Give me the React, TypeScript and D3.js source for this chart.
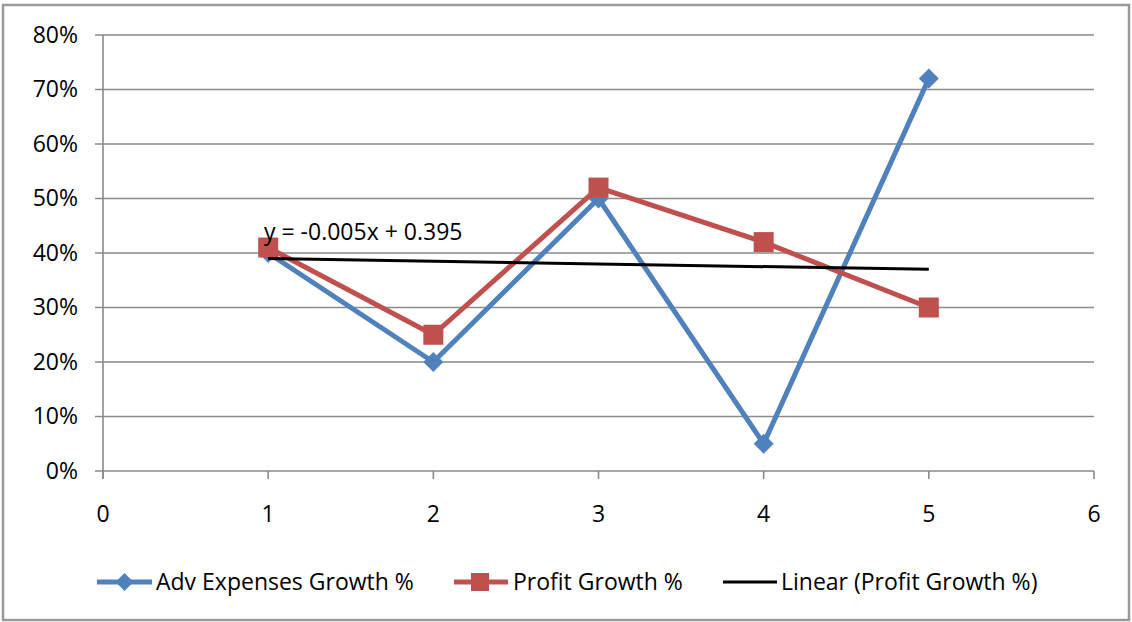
import React from "react";
import * as d3 from "d3";

// Year index on the horizontal axis
const periods = [1, 2, 3, 4, 5];
// Growth rates, as fractions
const advExpensesGrowth = [0.4, 0.2, 0.5, 0.05, 0.72];
const profitGrowth = [0.41, 0.25, 0.52, 0.42, 0.3];

const xTicks = [0, 1, 2, 3, 4, 5, 6];
const yTicks = [0, 0.1, 0.2, 0.3, 0.4, 0.5, 0.6, 0.7, 0.8];

const seriesNames = ["Adv Expenses Growth %", "Profit Growth %", "Linear (Profit Growth %)"];

const W = 1132;
const H = 622;
const FONT = "'Open Sans', Lato, sans-serif";
const FS = 23;
const BLUE = "#4F81BD";
const RED = "#C0504D";
const GRID = "#8a8a8a";

// least-squares fit of profit growth against period
function linearFit(xs: number[], ys: number[]) {
  const mx = d3.mean(xs)!;
  const my = d3.mean(ys)!;
  const num = d3.sum(xs, (x, i) => (x - mx) * (ys[i] - my));
  const den = d3.sum(xs, (x) => (x - mx) * (x - mx));
  const slope = num / den;
  return { slope, intercept: my - slope * mx };
}

function diamond(cx: number, cy: number, r: number) {
  return `M${cx},${cy - r}L${cx + r},${cy}L${cx},${cy + r}L${cx - r},${cy}Z`;
}

export default function App() {
  const x = d3.scaleLinear().domain([0, 6]).range([103, 1094]);
  const y = d3.scaleLinear().domain([0, 0.8]).range([471, 35]);

  const line = d3
    .line<number>()
    .x((_, i) => x(periods[i]))
    .y((v) => y(v));

  const fit = linearFit(periods, profitGrowth);
  const x0 = periods[0];
  const x1 = periods[periods.length - 1];
  const fmt = (v: number) => String(+v.toFixed(3));
  const eq = `y = ${fit.slope < 0 ? "-" : ""}${fmt(Math.abs(fit.slope))}x + ${fmt(fit.intercept)}`;

  const legendY = 582;

  return (
    <svg
      width={W}
      height={H}
      style={{ position: "absolute", left: 0, top: 0, background: "#fff" }}
      fontFamily={FONT}
    >
      <rect x={3} y={5} width={1126} height={615} fill="#fff" stroke="#999" strokeWidth={2.5} />

      {/* horizontal gridlines and y ticks */}
      {yTicks.map((t) => (
        <g key={t}>
          <line x1={95} x2={1094} y1={y(t)} y2={y(t)} stroke={GRID} strokeWidth={1.6} />
          <text x={78} y={y(t)} dy="0.33em" textAnchor="end" fontSize={FS} fill="#000">
            {d3.format(".0%")(t)}
          </text>
        </g>
      ))}

      {/* vertical axis */}
      <line x1={x(0)} x2={x(0)} y1={y(0.8)} y2={y(0) + 8} stroke={GRID} strokeWidth={1.6} />

      {/* x ticks */}
      {xTicks.map((t) => (
        <g key={t}>
          <line x1={x(t)} x2={x(t)} y1={y(0)} y2={y(0) + 8} stroke={GRID} strokeWidth={1.6} />
          <text x={x(t)} y={522} textAnchor="middle" fontSize={FS} fill="#000">
            {t}
          </text>
        </g>
      ))}

      {/* advertising expenses growth */}
      <path d={line(advExpensesGrowth)!} fill="none" stroke={BLUE} strokeWidth={5} strokeLinejoin="round" />
      {advExpensesGrowth.map((v, i) => (
        <path key={i} d={diamond(x(periods[i]), y(v), 10)} fill={BLUE} />
      ))}

      {/* profit growth */}
      <path d={line(profitGrowth)!} fill="none" stroke={RED} strokeWidth={5} strokeLinejoin="round" />
      {profitGrowth.map((v, i) => (
        <rect key={i} x={x(periods[i]) - 10} y={y(v) - 10} width={20} height={20} fill={RED} />
      ))}

      {/* linear trend of profit growth */}
      <line
        x1={x(x0)}
        x2={x(x1)}
        y1={y(fit.intercept + fit.slope * x0)}
        y2={y(fit.intercept + fit.slope * x1)}
        stroke="#000"
        strokeWidth={3}
      />
      <text x={264} y={240} fontSize={FS} fill="#000">
        {eq}
      </text>

      {/* legend */}
      <g fontSize={FS} fill="#000">
        <line x1={97} x2={152} y1={legendY} y2={legendY} stroke={BLUE} strokeWidth={5} />
        <path d={diamond(124.5, legendY, 9)} fill={BLUE} />
        <text x={156} y={590}>{seriesNames[0]}</text>

        <line x1={454} x2={508} y1={legendY} y2={legendY} stroke={RED} strokeWidth={5} />
        <rect x={471} y={legendY - 9} width={18} height={18} fill={RED} />
        <text x={513} y={590}>{seriesNames[1]}</text>

        <line x1={723} x2={777} y1={legendY} y2={legendY} stroke="#000" strokeWidth={3} />
        <text x={781} y={590}>{seriesNames[2]}</text>
      </g>
    </svg>
  );
}
